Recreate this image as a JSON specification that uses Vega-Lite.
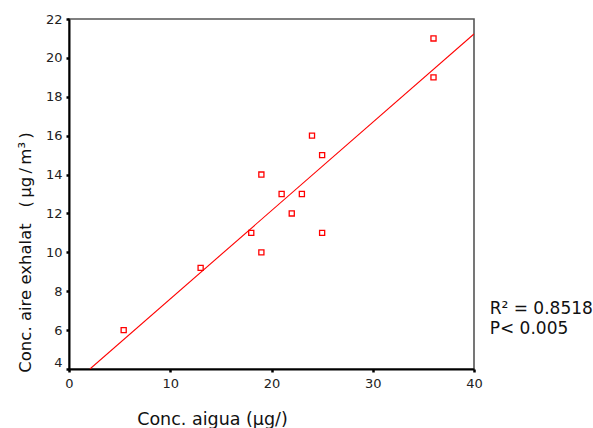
{
  "$schema": "https://vega.github.io/schema/vega-lite/v6.json",
  "width": 405,
  "height": 350,
  "autosize": "none",
  "padding": {"left": 69, "top": 19, "right": 119, "bottom": 59},
  "background": "white",
  "config": {
    "font": "DejaVu Sans",
    "view": {"stroke": "#555555", "strokeWidth": 1.6},
    "axis": {
      "grid": false,
      "domainColor": "#000000",
      "domainWidth": 2,
      "tickColor": "#000000",
      "tickWidth": 2.5,
      "tickSize": 3,
      "labelFlush": false,
      "labelOverlap": false,
      "labelFont": "DejaVu Sans",
      "labelFontSize": 13,
      "labelColor": "#222222",
      "titleFont": "DejaVu Sans",
      "titleFontSize": 17.5,
      "titleFontWeight": "normal",
      "titleColor": "#111111"
    }
  },
  "datasets": {
    "samples": [
      {"aigua": 5.4, "aire": 6.0},
      {"aigua": 13, "aire": 9.2},
      {"aigua": 18, "aire": 11},
      {"aigua": 19, "aire": 10},
      {"aigua": 19, "aire": 14},
      {"aigua": 21, "aire": 13},
      {"aigua": 22, "aire": 12},
      {"aigua": 23, "aire": 13},
      {"aigua": 24, "aire": 16},
      {"aigua": 25, "aire": 15},
      {"aigua": 25, "aire": 11},
      {"aigua": 36, "aire": 21},
      {"aigua": 36, "aire": 19}
    ],
    "fit": [
      {"aigua": 2.07, "aire": 4.0},
      {"aigua": 40, "aire": 21.23}
    ],
    "stats": [
      {"aigua": 41.55, "aire": 7.07, "label": "R² = 0.8518"},
      {"aigua": 41.55, "aire": 6.04, "label": "P< 0.005"}
    ]
  },
  "encoding": {
    "x": {
      "field": "aigua",
      "type": "quantitative",
      "scale": {"domain": [0, 40], "nice": false, "zero": false},
      "axis": {
        "values": [0, 10, 20, 30, 40],
        "labelOverlap": false,
        "labelFlush": false,
        "labelPadding": 5,
        "title": "Conc. aigua (µg/)",
        "titleX": 143,
        "titleY": 55,
        "titleAlign": "center",
        "titleBaseline": "alphabetic"
      }
    },
    "y": {
      "field": "aire",
      "type": "quantitative",
      "scale": {"domain": [4, 22], "nice": false, "zero": false},
      "axis": {
        "values": [4, 6, 8, 10, 12, 14, 16, 18, 20, 22],
        "tickCount": 10,
        "labelOverlap": false,
        "labelFlush": false,
        "labelPadding": 4,
        "labelOffset": {"condition": {"test": "datum.value === 4", "value": -7}, "value": 0},
        "title": "Conc. aire exhalat \u00a0\u00a0(\u2009µg\u2009/\u2009m³\u2009)",
        "titleFontSize": 16.5,
        "titleX": -44,
        "titleY": 233,
        "titleAngle": -90,
        "titleAlign": "center",
        "titleBaseline": "middle"
      }
    }
  },
  "layer": [
    {
      "data": {"name": "fit"},
      "mark": {"type": "line", "color": "#ff0000", "strokeWidth": 1.1, "clip": true}
    },
    {
      "data": {"name": "samples"},
      "mark": {"type": "point", "shape": "square", "filled": false, "color": "#ff0000", "size": 26, "strokeWidth": 1.3, "opacity": 1}
    },
    {
      "data": {"name": "stats"},
      "mark": {"type": "text", "align": "left", "baseline": "middle", "fontSize": 17, "font": "DejaVu Sans", "color": "#111111"},
      "encoding": {
        "text": {"field": "label"}
      }
    }
  ]
}
